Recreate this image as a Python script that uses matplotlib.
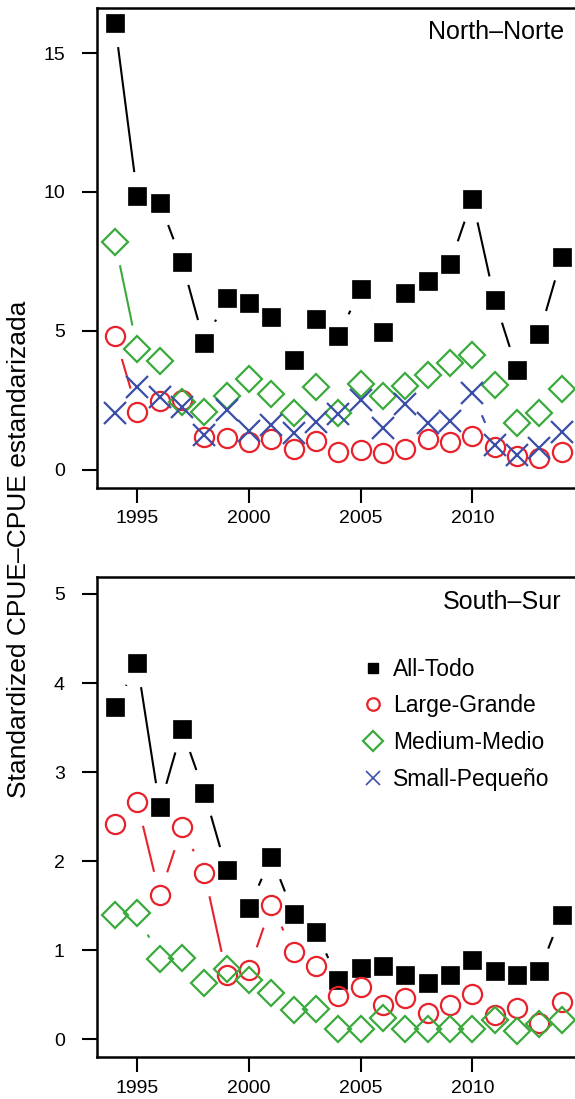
import numpy as np
import matplotlib
matplotlib.use("Agg")
import matplotlib.pyplot as plt
from matplotlib import font_manager
from matplotlib.collections import LineCollection
from matplotlib.lines import Line2D

# standardized CPUE by size class, north and south areas
years = np.arange(1994, 2015)

north_all = [16.07, 9.86, 9.62, 7.49, 4.56, 6.18, 6.00, 5.49, 3.96, 5.42, 4.82,
             6.51, 4.98, 6.35, 6.80, 7.41, 9.75, 6.12, 3.60, 4.89, 7.65]
north_large = [4.82, 2.10, 2.48, 2.52, 1.20, 1.14, 1.00, 1.10, 0.76, 1.04, 0.66,
               0.70, 0.60, 0.76, 1.10, 1.02, 1.22, 0.82, 0.50, 0.42, 0.66]
north_medium = [8.21, 4.35, 3.92, 2.46, 2.10, 2.67, 3.27, 2.72, 2.06, 3.00, 2.04,
                3.09, 2.67, 3.02, 3.42, 3.86, 4.14, 3.06, 1.68, 2.06, 2.90]
north_small = [2.04, 3.00, 2.64, 2.28, 1.26, 2.16, 1.41, 1.62, 1.32, 1.74, 2.00,
               2.52, 1.50, 2.37, 1.68, 1.77, 2.76, 0.90, 0.54, 0.78, 1.38]

south_all = [3.73, 4.22, 2.61, 3.48, 2.77, 1.90, 1.48, 2.05, 1.41, 1.21, 0.67,
             0.80, 0.82, 0.72, 0.63, 0.72, 0.89, 0.77, 0.72, 0.77, 1.40]
south_large = [2.42, 2.66, 1.62, 2.38, 1.87, 0.72, 0.78, 1.51, 0.98, 0.83, 0.49,
               0.59, 0.385, 0.47, 0.30, 0.385, 0.51, 0.27, 0.35, 0.18, 0.42]
south_medium = [1.40, 1.42, 0.90, 0.91, 0.63, 0.79, 0.67, 0.52, 0.33, 0.34, 0.12,
                0.12, 0.24, 0.12, 0.12, 0.12, 0.12, 0.22, 0.10, 0.17, 0.22]

labels = ["All-Todo", "Large-Grande", "Medium-Medio", "Small-Peque\u00f1o"]
RED = "#e8222b"
GREEN = "#3aaa3c"
BLUE = "#3b4ea8"

names = {f.name for f in font_manager.fontManager.ttflist}
tick_font = "Liberation Sans Narrow" if "Liberation Sans Narrow" in names else "Liberation Sans"
tick_size = 17 if tick_font == "Liberation Sans Narrow" else 14
plt.rcParams["font.family"] = ["Liberation Sans", "DejaVu Sans"]

fig = plt.figure(figsize=(5.75, 10.99), dpi=100)
W, H = 575.0, 1099.0
left, right = 96.7 / W, 580.0 / W
ax1 = fig.add_axes([left, 1 - 488 / H, right - left, 480 / H])
ax2 = fig.add_axes([left, 1 - 1057.3 / H, right - left, 480.3 / H])


def gapped(ax, x, y, color, gap=24):
    # type "b" style: segments between points, trimmed around each marker
    pts = ax.transData.transform(np.column_stack([x, y]))
    inv = ax.transData.inverted()
    segs = []
    for p0, p1 in zip(pts[:-1], pts[1:]):
        d = np.hypot(*(p1 - p0))
        if d > 2 * gap:
            f = gap / d
            a = p0 + f * (p1 - p0)
            b = p1 - f * (p1 - p0)
            segs.append(inv.transform(np.array([a, b])))
    ax.add_collection(LineCollection(segs, colors=color, linewidths=1.5,
                                     capstyle="butt"))


def style(ax, ylim, yticks):
    ax.set_xlim(1993.18, 2014.82)
    ax.set_ylim(*ylim)
    ax.set_xticks([1995, 2000, 2005, 2010])
    ax.set_yticks(yticks)
    for s in ax.spines.values():
        s.set_linewidth(1.8)
    ax.tick_params(axis="both", direction="out", length=11, width=1.5,
                   labelsize=tick_size)
    ax.tick_params(axis="y", pad=12)
    ax.tick_params(axis="x", pad=5)
    for t in ax.get_xticklabels() + ax.get_yticklabels():
        t.set_fontfamily(tick_font)


def draw_series(ax, y, marker, color, ms, filled):
    gapped(ax, years, y, color)
    ax.plot(years, y, linestyle="none", marker=marker, ms=ms,
            markerfacecolor=color if filled else "none",
            markeredgecolor=color, markeredgewidth=0.5 if filled else 1.6)


style(ax1, (-0.65, 16.62), [0, 5, 10, 15])
style(ax2, (-0.2, 5.19), [0, 1, 2, 3, 4, 5])

draw_series(ax1, north_all, "s", "black", 13.5, True)
draw_series(ax1, north_large, "o", RED, 13.8, False)
draw_series(ax1, north_medium, "D", GREEN, 13.3, False)
draw_series(ax1, north_small, "x", BLUE, 15.5, False)

draw_series(ax2, south_all, "s", "black", 13.5, True)
draw_series(ax2, south_large, "o", RED, 13.8, False)
draw_series(ax2, south_medium, "D", GREEN, 13.3, False)

ax1.text(0.968, 0.95, "North\u2013Norte", transform=ax1.transAxes,
         ha="right", va="center", fontsize=18)
ax2.text(0.962, 0.948, "South\u2013Sur", transform=ax2.transAxes,
         ha="right", va="center", fontsize=18)

handles = [
    Line2D([], [], ls="none", marker="s", ms=7.5, color="black"),
    Line2D([], [], ls="none", marker="o", ms=9, mfc="none", mec=RED, mew=1.6),
    Line2D([], [], ls="none", marker="D", ms=10.5, mfc="none", mec=GREEN, mew=1.6),
    Line2D([], [], ls="none", marker="x", ms=10.5, mec=BLUE, mew=1.2),
]
ax2.legend(handles, labels, loc="upper left", bbox_to_anchor=(0.549, 0.832),
           frameon=False, fontsize=16.5, borderpad=0, borderaxespad=0,
           handlelength=1.0, handletextpad=0.35, labelspacing=0.6)

fig.text(0.033, 0.5, "Standardized CPUE\u2013CPUE estandarizada", rotation=90,
         ha="center", va="center", fontsize=19)

fig.savefig("out.png", dpi=100)
